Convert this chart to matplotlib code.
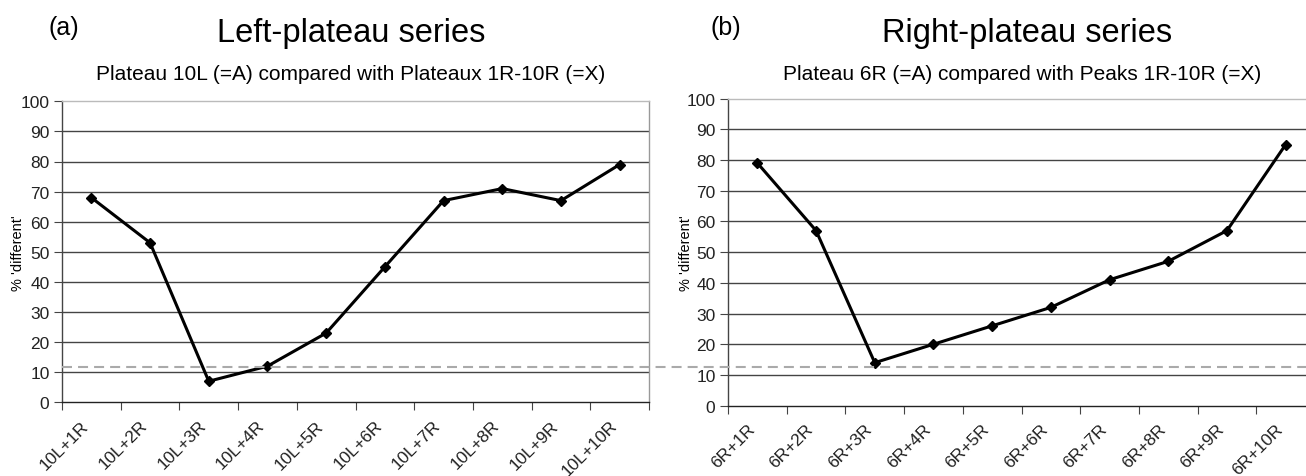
import matplotlib.pyplot as plt
import numpy as np
from matplotlib.lines import Line2D

plt.rcParams['font.family'] = ['Liberation Sans', 'DejaVu Sans']

# Left-plateau series: plateau 10L against plateaux 1R-10R
left_labels = ["10L+1R", "10L+2R", "10L+3R", "10L+4R", "10L+5R",
               "10L+6R", "10L+7R", "10L+8R", "10L+9R", "10L+10R"]
left_values = [68, 53, 7, 12, 23, 45, 67, 71, 67, 79]

# Right-plateau series: plateau 6R against peaks 1R-10R
right_labels = ["6R+1R", "6R+2R", "6R+3R", "6R+4R", "6R+5R",
                "6R+6R", "6R+7R", "6R+8R", "6R+9R", "6R+10R"]
right_values = [79, 57, 14, 20, 26, 32, 41, 47, 57, 85]

threshold = 12
yticks = list(range(0, 101, 10))

W, H = 1306, 477
fig = plt.figure(figsize=(W / 100, H / 100), dpi=100)


def px(x0, x1, y0, y1):
    # pixel box -> figure fraction rect
    return [x0 / W, 1 - y0 / H, (x1 - x0) / W, (y0 - y1) / H]


def excel_line(ax, labels, values, ylab_x):
    n = len(values)
    x = np.arange(n) + 0.5
    ax.plot(x, values, color="black", lw=2.2, marker="D", ms=5.5,
            clip_on=False, zorder=5)
    ax.set_xlim(0, n)
    ax.set_ylim(0, 100)
    ax.set_yticks(yticks)
    ax.tick_params(axis="y", labelsize=12.5, length=6, color="#444444",
                   pad=3, labelcolor="#222222")
    # boundary ticks; rotated labels hang just left of each category centre
    ax.set_xticks(np.arange(n + 1))
    ax.set_xticklabels([])
    ax.set_xticks(x - 0.18, minor=True)
    ax.set_xticklabels(labels, minor=True, rotation=45, ha="right",
                       va="top", rotation_mode="anchor", fontsize=12.5,
                       color="#222222")
    ax.tick_params(axis="x", which="major", length=6, color="#444444")
    ax.tick_params(axis="x", which="minor", length=0, pad=11)
    for v in yticks[1:-1]:
        ax.axhline(v, color="#444444", lw=1.0, zorder=1)
    ax.spines["top"].set_color("#bbbbbb")
    ax.spines["right"].set_color("#999999")
    ax.spines["left"].set_color("#444444")
    ax.spines["bottom"].set_color("#222222")
    for s in ax.spines.values():
        s.set_linewidth(1.0)
    ax.set_ylabel("% 'different'", fontsize=10.5)
    ax.yaxis.set_label_coords(ylab_x, 0.5)


ax1 = fig.add_axes(px(62, 649, 403.3, 102.3))
excel_line(ax1, left_labels, left_values, (25 - 62) / 587)

ax2 = fig.add_axes(px(728, 1315, 406.7, 99.5))
excel_line(ax2, right_labels, right_values, (693 - 728) / 587)

# common threshold line running across both panels
yline = 1 - 367.5 / H
fig.add_artist(Line2D([62 / W, 1.0], [yline, yline], color="#aaaaaa",
                      lw=1.5, ls=(0, (4.8, 2.9)), zorder=3))

fig.text(48 / W, 1 - 35 / H, "(a)", fontsize=18, va="baseline")
fig.text(351 / W, 1 - 42 / H, "Left-plateau series", fontsize=23.5,
         ha="center", va="baseline")
fig.text(351 / W, 1 - 80 / H, "Plateau 10L (=A) compared with Plateaux 1R-10R (=X)",
         fontsize=15, ha="center", va="baseline")

fig.text(710 / W, 1 - 35 / H, "(b)", fontsize=18, va="baseline")
fig.text(1027 / W, 1 - 42 / H, "Right-plateau series", fontsize=23.5,
         ha="center", va="baseline")
fig.text(1022 / W, 1 - 80 / H, "Plateau 6R (=A) compared with Peaks 1R-10R (=X)",
         fontsize=15, ha="center", va="baseline")

fig.savefig("out.png", dpi=100)
